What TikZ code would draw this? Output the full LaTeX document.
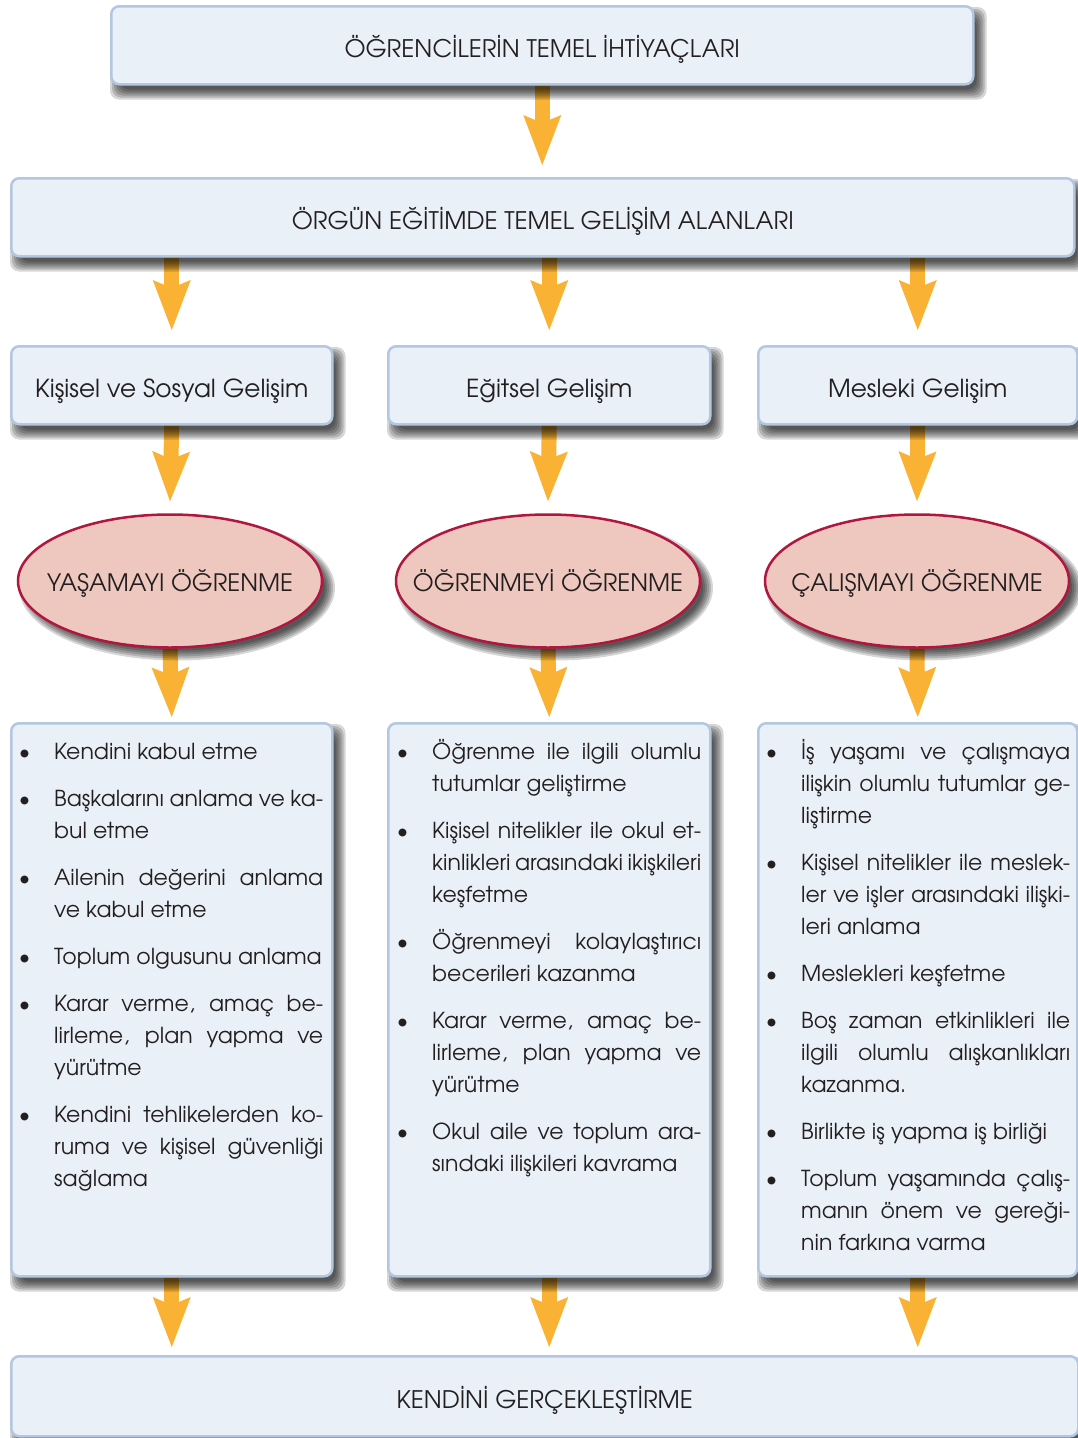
\documentclass[tikz,border=0pt]{standalone}
\usepackage{fontspec}
\setmainfont{texgyreadventor-regular.otf}
\usetikzlibrary{arrows.meta,shapes.geometric}

\definecolor{boxfill}{HTML}{E9F0F8}
\definecolor{boxline}{HTML}{B3C8E0}
\definecolor{ovalfill}{HTML}{EEC8BE}
\definecolor{ovalline}{HTML}{B0173F}
\definecolor{arrowcol}{HTML}{F9B233}
\definecolor{ink}{HTML}{231F20}

\pgfdeclarelayer{background}
\pgfdeclarelayer{shadow}
\pgfsetlayers{background,shadow,main}

% list helpers: bullet item, fully justified line
\newcommand\itm{\noindent\llap{\textbullet\hspace{24pt}}}
\newcommand\jl[1]{\makebox[\linewidth][s]{#1}\\}
\newenvironment{itemlist}{\begin{minipage}[t]{269pt}\setlength\parskip{15pt}\setlength\parindent{0pt}}{\end{minipage}}

% soft drop shadows built from stacked translucent layers
\newcommand\boxshadow[1]{%
  \foreach \d in {-6,-4,...,4}{%
    \fill[black, opacity=0.16, rounded corners=9pt]
      ([shift={(6+\d,8-\d)}]#1.south west) rectangle ([shift={(6-\d,8+\d)}]#1.north east);
  }}
\newcommand\ovalshadow[1]{%
  \foreach \d in {-6,-4,...,4}{%
    \fill[black, opacity=0.16]
      ([shift={(7,7)}]#1.center) ellipse [x radius=152-\d, y radius=66.5-\d];
  }}

\tikzset{
  panel/.style={draw=boxline, line width=2.5pt, fill=boxfill, rounded corners=8pt,
      text=ink, inner sep=0pt, anchor=north west},
  header/.style={panel, minimum height=78pt, text height=24pt, text depth=0pt,
      font=\fontsize{24.2}{28}\selectfont},
  area/.style={header, font=\fontsize{24.8}{28}\selectfont},
  oval/.style={ellipse, draw=ovalline, line width=2.5pt, fill=ovalfill, text=ink,
      inner sep=0pt, minimum width=304pt, minimum height=133pt,
      text height=20pt, text depth=0pt, font=\fontsize{24}{28}\selectfont},
  listtext/.style={anchor=base west, inner sep=0pt, text=ink,
      font=\fontsize{22}{32}\selectfont},
  flow/.style={draw=arrowcol, line width=15pt,
      -{Stealth[length=50pt, width=38pt, inset=8pt, line width=0pt]}},
}

\begin{document}
\begin{tikzpicture}[x=1pt, y=-1pt]
\begin{pgfonlayer}{background}
  \fill[white] (0,0) rectangle (1077,1438);
\end{pgfonlayer}
\useasboundingbox (0,0) rectangle (1077,1438);

% headers
\node[header, minimum width=862pt] (top) at (110,5) {ÖĞRENCİLERİN TEMEL İHTİYAÇLARI};
\node[header, minimum width=1063pt] (areas) at (10,177) {ÖRGÜN EĞİTİMDE TEMEL GELİŞİM ALANLARI};

% development areas
\node[area, minimum width=321pt] (c1) at (10,345) {Kişisel ve Sosyal Gelişim};
\node[area, minimum width=322pt] (c2) at (387,345) {Eğitsel Gelişim};
\node[area, minimum width=319pt] (c3) at (757,345) {Mesleki Gelişim};

% learning goals
\node[oval] (o1) at (170,581) {\makebox[0pt]{YAŞAMAYI ÖĞRENME}};
\node[oval] (o2) at (548,581) {\makebox[0pt]{ÖĞRENMEYİ ÖĞRENME}};
\node[oval] (o3) at (917,581) {\makebox[0pt]{ÇALIŞMAYI ÖĞRENME}};

% list panels
\node[panel, minimum width=321pt, minimum height=553pt] (b1) at (10,722) {};
\node[panel, minimum width=322pt, minimum height=553pt] (b2) at (387,722) {};
\node[panel, minimum width=319pt, minimum height=553pt] (b3) at (757,722) {};

\node[listtext] (t1) at (54,759) {\begin{itemlist}
\itm Kendini kabul etme\par
\itm \jl{Başkalarını anlama ve ka-}bul etme\par
\itm \jl{Ailenin değerini anlama}ve kabul etme\par
\itm Toplum olgusunu anlama\par
\itm \jl{Karar verme, amaç be-}\jl{lirleme, plan yapma ve}yürütme\par
\itm \jl{Kendini tehlikelerden ko-}\jl{ruma ve kişisel güvenliği}sağlama\par
\end{itemlist}};

\node[listtext] (t2) at (432,759) {\begin{itemlist}
\itm \jl{Öğrenme ile ilgili olumlu}tutumlar geliştirme\par
\itm \jl{Kişisel nitelikler ile okul et-}\jl{kinlikleri arasındaki ikişkileri}keşfetme\par
\itm \jl{Öğrenmeyi kolaylaştırıcı}becerileri kazanma\par
\itm \jl{Karar verme, amaç be-}\jl{lirleme, plan yapma ve}yürütme\par
\itm \jl{Okul aile ve toplum ara-}sındaki ilişkileri kavrama\par
\end{itemlist}};

\node[listtext] (t3) at (801,759) {\begin{itemlist}
\itm \jl{İş yaşamı ve çalışmaya}\jl{ilişkin olumlu tutumlar ge-}liştirme\par
\itm \jl{Kişisel nitelikler ile meslek-}\jl{ler ve işler arasındaki ilişki-}leri anlama\par
\itm Meslekleri keşfetme\par
\itm \jl{Boş zaman etkinlikleri ile}\jl{ilgili olumlu alışkanlıkları}kazanma.\par
\itm Birlikte iş yapma iş birliği\par
\itm \jl{Toplum yaşamında çalış-}\jl{manın önem ve gereği-}nin farkına varma\par
\end{itemlist}};

% final goal
\node[header, minimum width=1067pt, minimum height=80pt] (goal) at (10,1355) {KENDİNİ GERÇEKLEŞTİRME};

% shadows
\begin{pgfonlayer}{shadow}
  \foreach \n in {top, areas, c1, c2, c3, b1, b2, b3, goal}{\boxshadow{\n}}
  \foreach \n in {o1, o2, o3}{\ovalshadow{\n}}
\end{pgfonlayer}

% connecting arrows
\begin{pgfonlayer}{background}
  \draw[flow] (top.south) -- ([yshift=12pt]areas.north -| top.south);
  \foreach \c/\o/\b in {c1/o1/b1, c2/o2/b2, c3/o3/b3}{
    \draw[flow] (areas.south -| \c.north) -- ([yshift=15pt]\c.north);
    \draw[flow] (\c.south) -- ([yshift=12pt]\o.north);
    \draw[flow] (\o.south) -- ([yshift=5pt]\b.north);
    \draw[flow] (\b.south) -- ([yshift=8pt]goal.north -| \b.south);
  }
\end{pgfonlayer}
\end{tikzpicture}
\end{document}
